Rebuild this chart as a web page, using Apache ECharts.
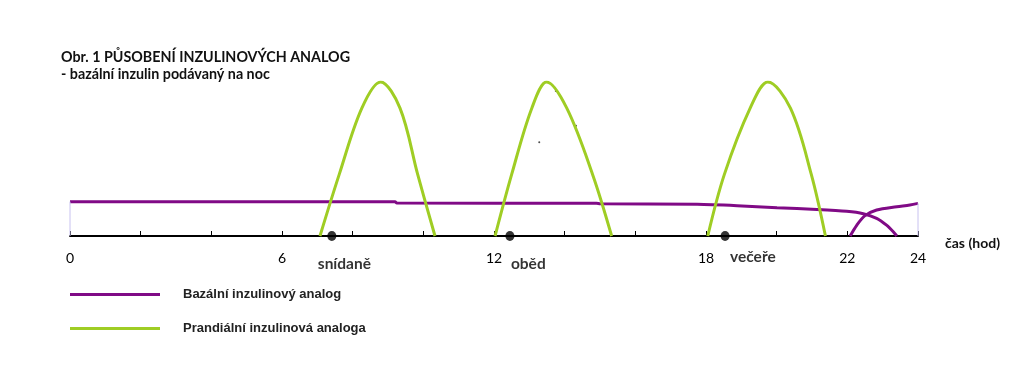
<!DOCTYPE html>
<html>
<head>
<meta charset="utf-8">
<script src="https://cdn.jsdelivr.net/npm/echarts@6/dist/echarts.min.js"></script>
<style>
  html, body { margin: 0; padding: 0; background: #fff; }
  #chart { width: 1019px; height: 377px; }
</style>
</head>
<body>
<div id="chart"></div>
<script>
// hours on x, relative insulin effect on y (0..10)
var tickLabels = [0, 6, 12, 18, 22, 24];

var basal = [[0, 2.23], [9.2, 2.23], [9.25, 2.14], [14.9, 2.12], [15.0, 2.09], [17.75, 2.06], [18.88, 1.97],
    [20.01, 1.84], [21.14, 1.72], [21.98, 1.6], [22.45, 1.45], [22.83, 1.15], [23.11, 0.71], [23.3, 0.28], [23.4, 0]];
var basalNext = [[22.08, 0], [22.27, 0.71], [22.5, 1.32], [22.83, 1.69], [23.4, 1.9], [23.77, 2.01], [24, 2.12]];

var breakfast = [[7.075, 0], [7.62, 4.0], [8.26, 8.3], [8.79, 10], [9.34, 8.3], [9.84, 4.0], [10.33, 0]];
var lunch = [[12.03, 0], [12.5, 4.0], [13.07, 8.3], [13.49, 10], [14.06, 8.3], [14.79, 4.0], [15.33, 0]];
var dinner = [[18.05, 0], [18.52, 4.0], [19.25, 8.3], [19.75, 10], [20.39, 8.3], [20.98, 4.0], [21.38, 0]];

var mealNames = ['snídaně', 'oběd', 'večeře'];
var mealHours = [7.41, 12.45, 18.54];
var specks = [[13.75, 9.42], [14.32, 7.16], [13.28, 6.08]];

var basalName = 'Bazální inzulinový analog';
var prandialName = 'Prandiální inzulinová analoga';
var purple = '#800a86';
var green = '#9fcd24';

var chart = echarts.init(document.getElementById('chart'));

var mealOffsets = [[-14, 10], [1, 10], [5, 3]];

function curve(name, color, data, smooth) {
    return {
        name: name, type: 'line', data: data, smooth: smooth, symbol: 'none',
        lineStyle: { color: color, width: 3 }, itemStyle: { color: color }
    };
}

var option = {
    animation: false,
    backgroundColor: '#fff',
    title: {
        text: 'Obr. 1 PŮSOBENÍ INZULINOVÝCH ANALOG',
        subtext: '- bazální inzulin podávaný na noc',
        left: 56, top: 45, itemGap: 3,
        textStyle: { fontFamily: 'Lato', fontWeight: 'bold', fontSize: 14.3, color: '#111' },
        subtextStyle: { fontFamily: 'Lato', fontWeight: 'bold', fontSize: 14.3, color: '#111' }
    },
    legend: {
        data: [basalName, prandialName],
        orient: 'vertical', left: 65, top: 283,
        itemWidth: 90, itemHeight: 3, itemGap: 21,
        icon: 'rect',
        textStyle: { fontFamily: 'Liberation Sans', fontWeight: 'bold', fontSize: 13, color: '#222', padding: [0, 0, 0, 18] }
    },
    grid: { left: 70, right: 101, top: 82, bottom: 141 },
    xAxis: {
        type: 'value', min: 0, max: 24, interval: 2,
        name: 'čas (hod)', nameLocation: 'end', nameGap: 27,
        nameTextStyle: { fontFamily: 'Lato', fontWeight: 'bold', fontSize: 14, color: '#111', verticalAlign: 'top' },
        axisLine: { lineStyle: { color: '#000', width: 2 } },
        axisTick: { inside: true, length: 5, lineStyle: { color: '#000', width: 1 } },
        axisLabel: { customValues: tickLabels, margin: 15, fontFamily: 'Lato', fontSize: 14, color: '#000' },
        splitLine: { show: false }
    },
    yAxis: { type: 'value', min: 0, max: 10, show: false },
    series: [
        curve(basalName, purple, basal, 0.2),
        curve(basalName, purple, basalNext, 0.3),
        curve(prandialName, green, breakfast, 0.35),
        curve(prandialName, green, lunch, 0.35),
        curve(prandialName, green, dinner, 0.35),
        {
            name: 'frame', type: 'line', symbol: 'none', data: [[0, 0], [0, 2.23]],
            lineStyle: { color: '#c8c2f0', width: 1 }
        },
        {
            name: 'frame', type: 'line', symbol: 'none', data: [[24, 0], [24, 2.12]],
            lineStyle: { color: '#c8c2f0', width: 1 }
        },
        {
            name: 'meals', type: 'scatter', symbol: 'circle', symbolSize: [9, 10], z: 5,
            itemStyle: { color: '#000' },
            data: mealHours.map(function (h, i) {
                return {
                    value: [h, 0], name: mealNames[i],
                    label: { offset: mealOffsets[i] }
                };
            }),
            label: {
                show: true, position: 'bottom', align: 'left',
                formatter: '{b}',
                fontFamily: 'Lato', fontWeight: 'bold', fontSize: 15.5, color: '#000'
            }
        },
        {
            name: 'specks', type: 'scatter', symbolSize: 2, data: specks,
            itemStyle: { color: '#222' }
        }
    ]
};

chart.setOption(option);
</script>
</body>
</html>
